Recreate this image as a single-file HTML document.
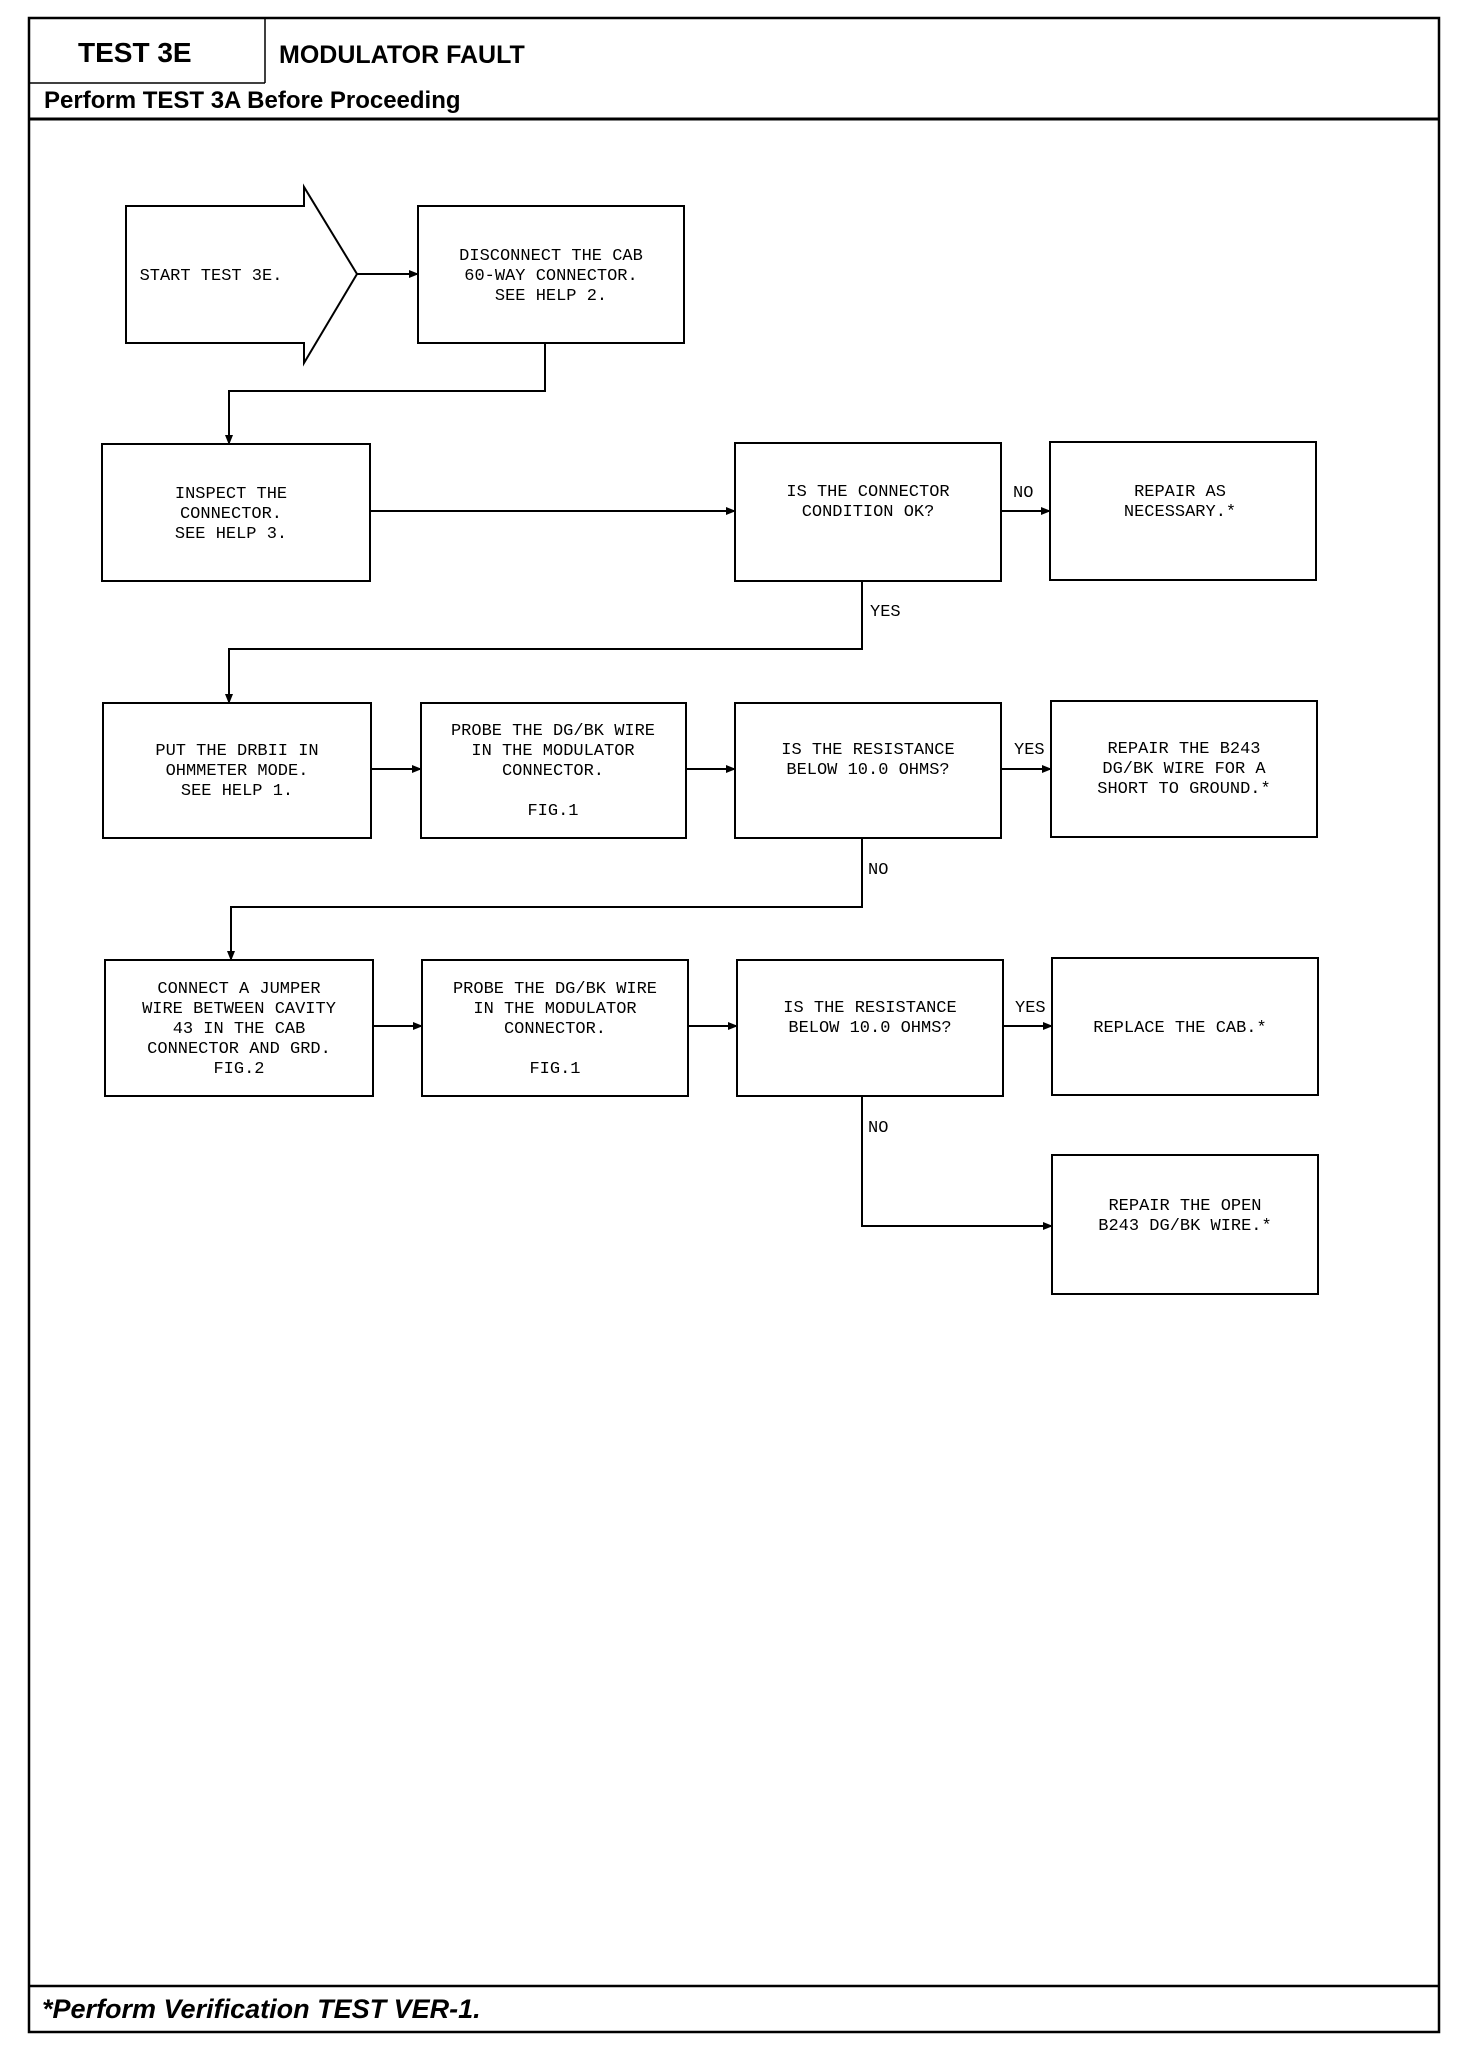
<!DOCTYPE html>
<html><head><meta charset="utf-8"><style>
body{margin:0;background:#fff}
svg{display:block}
.t{font-family:"Liberation Mono",monospace;font-size:17px;fill:#000;text-anchor:middle}
.l{font-family:"Liberation Mono",monospace;font-size:17px;fill:#000}
.h{font-family:"Liberation Sans",sans-serif;font-weight:bold;fill:#000}
</style></head><body>
<svg width="1472" height="2048" viewBox="0 0 1472 2048" xmlns="http://www.w3.org/2000/svg">
<defs><marker id="a" markerWidth="10" markerHeight="8" refX="9" refY="4" orient="auto" markerUnits="userSpaceOnUse"><path d="M0,0 L10,4 L0,8 z" fill="#000"/></marker></defs>
<g fill="none" stroke="#000">
<rect x="29" y="18" width="1410" height="2014" stroke-width="2.5"/>
<line x1="265" y1="18" x2="265" y2="83" stroke-width="1.5"/>
<line x1="29" y1="83" x2="265" y2="83" stroke-width="1.5"/>
<line x1="29" y1="119" x2="1439" y2="119" stroke-width="3"/>
<line x1="29" y1="1986" x2="1439" y2="1986" stroke-width="2.5"/>
<g stroke-width="2">
<path d="M126,206 H304 V187 L357,274 L304,363 V343 H126 Z"/>
<rect x="418" y="206" width="266" height="137"/>
<rect x="102" y="444" width="268" height="137"/>
<rect x="735" y="443" width="266" height="138"/>
<rect x="1050" y="442" width="266" height="138"/>
<rect x="103" y="703" width="268" height="135"/>
<rect x="421" y="703" width="265" height="135"/>
<rect x="735" y="703" width="266" height="135"/>
<rect x="1051" y="701" width="266" height="136"/>
<rect x="105" y="960" width="268" height="136"/>
<rect x="422" y="960" width="266" height="136"/>
<rect x="737" y="960" width="266" height="136"/>
<rect x="1052" y="958" width="266" height="137"/>
<rect x="1052" y="1155" width="266" height="139"/>
</g>
<g stroke-width="2" marker-end="url(#a)">
<line x1="357" y1="274" x2="418" y2="274"/>
<polyline points="545,343 545,391 229,391 229,444"/>
<line x1="370" y1="511" x2="735" y2="511"/>
<line x1="1001" y1="511" x2="1050" y2="511"/>
<polyline points="862,581 862,649 229,649 229,703"/>
<line x1="371" y1="769" x2="421" y2="769"/>
<line x1="686" y1="769" x2="735" y2="769"/>
<line x1="1001" y1="769" x2="1051" y2="769"/>
<polyline points="862,838 862,907 231,907 231,960"/>
<line x1="373" y1="1026" x2="422" y2="1026"/>
<line x1="688" y1="1026" x2="737" y2="1026"/>
<line x1="1003" y1="1026" x2="1052" y2="1026"/>
<polyline points="862,1096 862,1226 1052,1226"/>
</g>
</g>
<text class="h" x="78" y="62" font-size="28">TEST 3E</text>
<text class="h" x="279" y="63" font-size="25">MODULATOR FAULT</text>
<text class="h" x="44" y="108" font-size="24">Perform TEST 3A Before Proceeding</text>
<text class="h" x="42" y="2018" font-size="27" font-style="italic">*Perform Verification TEST VER-1.</text>

<text class="t" x="211" y="280">START TEST 3E.</text>
<text class="t" x="551" y="260">DISCONNECT THE CAB</text>
<text class="t" x="551" y="280">60-WAY CONNECTOR.</text>
<text class="t" x="551" y="300">SEE HELP 2.</text>

<text class="t" x="231" y="498">INSPECT THE</text>
<text class="t" x="231" y="518">CONNECTOR.</text>
<text class="t" x="231" y="538">SEE HELP 3.</text>
<text class="t" x="868" y="496">IS THE CONNECTOR</text>
<text class="t" x="868" y="516">CONDITION OK?</text>
<text class="t" x="1180" y="496">REPAIR AS</text>
<text class="t" x="1180" y="516">NECESSARY.*</text>
<text class="l" x="1013" y="497">NO</text>
<text class="l" x="870" y="616">YES</text>

<text class="t" x="237" y="755">PUT THE DRBII IN</text>
<text class="t" x="237" y="775">OHMMETER MODE.</text>
<text class="t" x="237" y="795">SEE HELP 1.</text>
<text class="t" x="553" y="735">PROBE THE DG/BK WIRE</text>
<text class="t" x="553" y="755">IN THE MODULATOR</text>
<text class="t" x="553" y="775">CONNECTOR.</text>
<text class="t" x="553" y="815">FIG.1</text>
<text class="t" x="868" y="754">IS THE RESISTANCE</text>
<text class="t" x="868" y="774">BELOW 10.0 OHMS?</text>
<text class="t" x="1184" y="753">REPAIR THE B243</text>
<text class="t" x="1184" y="773">DG/BK WIRE FOR A</text>
<text class="t" x="1184" y="793">SHORT TO GROUND.*</text>
<text class="l" x="1014" y="754">YES</text>
<text class="l" x="868" y="874">NO</text>

<text class="t" x="239" y="993">CONNECT A JUMPER</text>
<text class="t" x="239" y="1013">WIRE BETWEEN CAVITY</text>
<text class="t" x="239" y="1033">43 IN THE CAB</text>
<text class="t" x="239" y="1053">CONNECTOR AND GRD.</text>
<text class="t" x="239" y="1073">FIG.2</text>
<text class="t" x="555" y="993">PROBE THE DG/BK WIRE</text>
<text class="t" x="555" y="1013">IN THE MODULATOR</text>
<text class="t" x="555" y="1033">CONNECTOR.</text>
<text class="t" x="555" y="1073">FIG.1</text>
<text class="t" x="870" y="1012">IS THE RESISTANCE</text>
<text class="t" x="870" y="1032">BELOW 10.0 OHMS?</text>
<text class="t" x="1180" y="1032">REPLACE THE CAB.*</text>
<text class="l" x="1015" y="1012">YES</text>
<text class="l" x="868" y="1132">NO</text>
<text class="t" x="1185" y="1210">REPAIR THE OPEN</text>
<text class="t" x="1185" y="1230">B243 DG/BK WIRE.*</text>
</svg>
</body></html>
